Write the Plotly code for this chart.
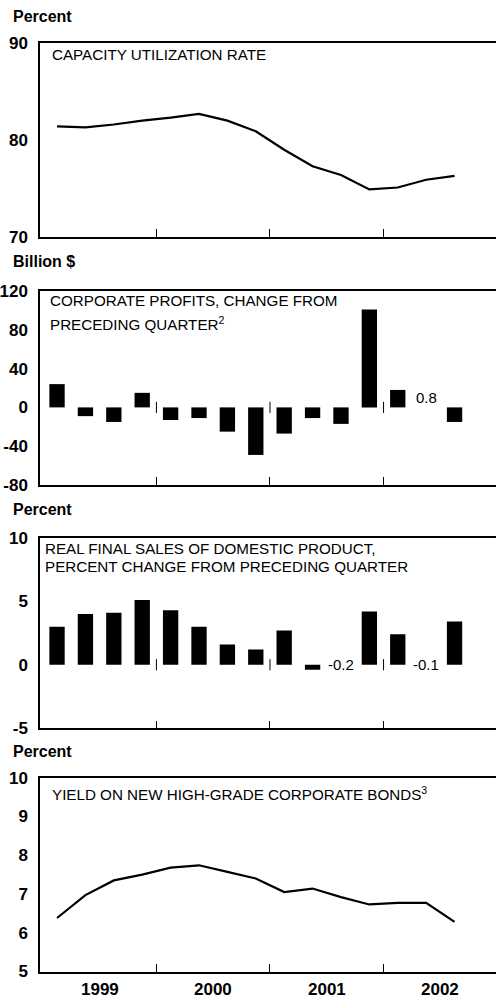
import plotly.graph_objects as go

quarters = [f"{y}Q{q}" for y in (1999, 2000, 2001, 2002) for q in (1, 2, 3, 4)][:15]
capacity_util = [81.4, 81.3, 81.6, 82.0, 82.3, 82.7, 82.0, 80.9, 79.0, 77.3, 76.4, 74.9, 75.1, 75.9, 76.3]
profits_change = [24, -9, -15, 15, -13, -11, -25, -49, -27, -11, -17, 101, 18, 0.8, -15]
real_final_sales = [3.0, 4.0, 4.1, 5.1, 4.3, 3.0, 1.6, 1.2, 2.7, -0.4, -0.2, 4.2, 2.4, -0.1, 3.4]
bond_yield = [6.38, 6.97, 7.35, 7.50, 7.68, 7.74, 7.57, 7.40, 7.05, 7.14, 6.92, 6.73, 6.77, 6.77, 6.28]
years = ["1999", "2000", "2001", "2002"]

profit_labels = {13: "0.8"}
sales_labels = {10: "-0.2", 13: "-0.1"}

panel_titles = [
    ["CAPACITY UTILIZATION RATE"],
    ["CORPORATE PROFITS, CHANGE FROM", "PRECEDING QUARTER<sup>2</sup>"],
    ["REAL FINAL SALES OF DOMESTIC PRODUCT,", "PERCENT CHANGE FROM PRECEDING QUARTER"],
    ["YIELD ON NEW HIGH-GRADE CORPORATE BONDS<sup>3</sup>"],
]
unit_labels = ["Percent", "Billion $", "Percent", "Percent"]
y_ticks = [[70, 80, 90], [-80, -40, 0, 40, 80, 120], [-5, 0, 5, 10], [5, 6, 7, 8, 9, 10]]
y_ranges = [[70, 90], [-80, 120], [-5, 10], [5, 10]]

W, H = 496, 998
LEFT = 40
PW = W - LEFT
# layout geometry in window pixels
panel_px = [(43, 237), (291, 485), (537.7, 728.3), (777.7, 971.5)]
unit_px = [16, 262, 510, 751]
title_x_px = [50, 48, 43, 50]
title_y_px = [[44], [290, 312], [538, 555.5], [782]]
year_label_px = 989


def py(v):
    return 1 - v / H


def px(v):
    return (v - LEFT) / PW


x = list(range(len(quarters)))
boundaries = [3.5, 7.5, 11.5]
year_pos = [1.5 + 4 * k for k in range(len(years))]

FONT = "Liberation Sans, Arial, sans-serif"

fig = go.Figure()
layout = dict(
    width=W, height=H,
    margin=dict(l=LEFT, r=0, t=0, b=0, autoexpand=False),
    paper_bgcolor="white", plot_bgcolor="white",
    showlegend=False,
    annotations=[],
)

for i in range(4):
    xa = "x" if i == 0 else f"x{i+1}"
    ya = "y" if i == 0 else f"y{i+1}"
    sfx = "" if i == 0 else str(i + 1)
    top, bot = panel_px[i]
    layout[f"xaxis{sfx}"] = dict(
        domain=[0, 1], anchor=ya, range=[-0.6, 15.46],
        tickvals=boundaries, ticktext=["", "", ""], ticks="inside", ticklen=8,
        tickcolor="black", tickwidth=1, automargin=False,
        showline=True, linecolor="black", linewidth=1.5, mirror=True,
        showgrid=False, zeroline=False,
    )
    layout[f"yaxis{sfx}"] = dict(
        domain=[py(bot), py(top)], anchor=xa, range=y_ranges[i],
        tickvals=y_ticks[i], ticktext=[str(v) for v in y_ticks[i]],
        ticks="", ticklabelstandoff=7, automargin=False,
        tickfont=dict(family=FONT, size=17, color="black", weight="bold"),
        showline=True, linecolor="black", linewidth=1.5, mirror=False,
        showgrid=False, zeroline=False,
    )
    layout["annotations"].append(dict(
        xref="paper", yref="paper", x=px(11), y=py(unit_px[i]),
        xanchor="left", yanchor="middle", showarrow=False,
        text="<b>" + unit_labels[i] + "</b>",
        font=dict(family=FONT, size=16, color="black"),
    ))
    for line, ypx in zip(panel_titles[i], title_y_px[i]):
        layout["annotations"].append(dict(
            xref="paper", yref="paper", x=px(title_x_px[i]), y=py(ypx),
            xanchor="left", yanchor="top", align="left", showarrow=False,
            text=line,
            font=dict(family=FONT, size=15.2, color="black"),
        ))

# Bars whose values are too small to show are given as text labels instead
profit_opacity = [0 if k in profit_labels else 1 for k in x]
sales_opacity = [0 if k in sales_labels else 1 for k in x]

# Panel 1: capacity utilization line
fig.add_trace(go.Scatter(x=x, y=capacity_util, mode="lines",
                         line=dict(color="black", width=2.2), xaxis="x", yaxis="y"))
# Panel 2: profits bars
fig.add_trace(go.Bar(x=x, y=profits_change, width=0.54,
                     marker=dict(color="black", opacity=profit_opacity, line=dict(width=0)),
                     xaxis="x2", yaxis="y2"))
fig.add_trace(go.Scatter(x=boundaries, y=[0] * len(boundaries), mode="markers",
                         marker=dict(symbol="line-ns", size=8, line=dict(color="black", width=1)),
                         xaxis="x2", yaxis="y2"))
for k, t in profit_labels.items():
    layout["annotations"].append(dict(x=x[k], y=profits_change[k], xref="x2", yref="y2",
                                      text=t, showarrow=False, yanchor="bottom", yshift=-1,
                                      font=dict(family=FONT, size=15, color="black")))
# Panel 3: real final sales bars
fig.add_trace(go.Bar(x=x, y=real_final_sales, width=0.54,
                     marker=dict(color="black", opacity=sales_opacity, line=dict(width=0)),
                     xaxis="x3", yaxis="y3"))
fig.add_trace(go.Scatter(x=boundaries, y=[0] * len(boundaries), mode="markers",
                         marker=dict(symbol="line-ns", size=8, line=dict(color="black", width=1)),
                         xaxis="x3", yaxis="y3"))
for k, t in sales_labels.items():
    layout["annotations"].append(dict(x=x[k], y=0, xref="x3", yref="y3",
                                      text=t, showarrow=False, yanchor="middle",
                                      font=dict(family=FONT, size=15, color="black")))
# Panel 4: bond yield line
fig.add_trace(go.Scatter(x=x, y=bond_yield, mode="lines",
                         line=dict(color="black", width=2.2), xaxis="x4", yaxis="y4"))
for yr, p in zip(years, year_pos):
    layout["annotations"].append(dict(x=p, y=py(year_label_px), xref="x4", yref="paper",
                                      text="<b>" + yr + "</b>", showarrow=False,
                                      yanchor="middle",
                                      font=dict(family=FONT, size=17, color="black")))

fig.update_layout(**layout)
fig.write_html(
    "out.html",
    config={"displayModeBar": False},
    post_script="document.body.style.margin='0';document.body.style.overflow='hidden';",
)
